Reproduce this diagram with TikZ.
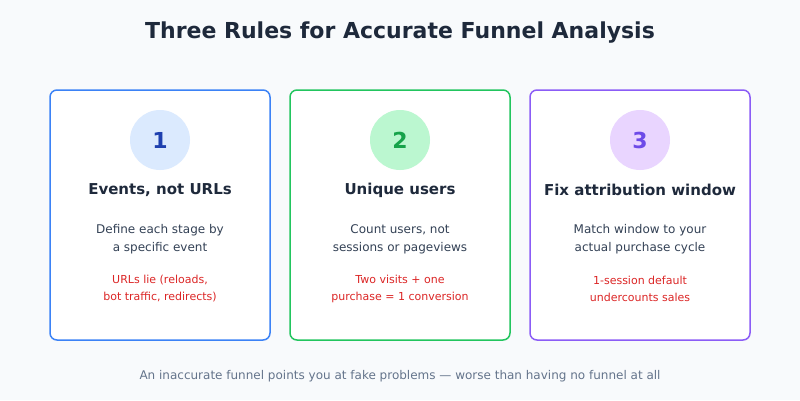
\documentclass[tikz,border=0pt]{standalone}
\usepackage{fontspec}
\setmainfont{DejaVu Sans}
\usetikzlibrary{positioning}
\definecolor{bgcol}{HTML}{F8FAFC}
\definecolor{ink}{HTML}{1E293B}
\definecolor{body}{HTML}{334155}
\definecolor{muted}{HTML}{64748B}
\definecolor{warn}{HTML}{DC2626}
\definecolor{blueA}{HTML}{3B82F6}\definecolor{blueB}{HTML}{DBEAFE}\definecolor{blueC}{HTML}{1E40AF}
\definecolor{greenA}{HTML}{22C55E}\definecolor{greenB}{HTML}{BBF7D0}\definecolor{greenC}{HTML}{16A34A}
\definecolor{purpA}{HTML}{8B5CF6}\definecolor{purpB}{HTML}{E9D5FF}\definecolor{purpC}{HTML}{6D4AE8}
\tikzset{
  card/.style={draw=#1,line width=1.5pt,fill=white,rounded corners=7pt},
  badge/.style={circle,fill=#1,minimum size=60pt,inner sep=0pt},
  headtxt/.style={font=\fontsize{15}{18}\selectfont\bfseries,text=ink},
  bodytxt/.style={font=\fontsize{12}{18}\selectfont,text=body,align=center},
  warntxt/.style={font=\fontsize{11}{17}\selectfont,text=warn,align=center}
}
\begin{document}
\begin{tikzpicture}[x=1pt,y=-1pt]
\fill[bgcol] (0,0) rectangle (800,400);
\useasboundingbox (0,0) rectangle (800,400);
\node[font=\fontsize{22}{26}\selectfont\bfseries,text=ink] (title) at (400,33) {Three Rules for Accurate Funnel Analysis};

\foreach \cx/\col/\num/\head/\bodyA/\warnA [count=\i] in {
  160/blue/1/{Events, not URLs}/{Define each stage by\\a specific event}/{URLs lie (reloads,\\bot traffic, redirects)},
  400/green/2/{Unique users}/{Count users, not\\sessions or pageviews}/{Two visits + one\\purchase = 1 conversion},
  640/purp/3/{Fix attribution window}/{Match window to your\\actual purchase cycle}/{1-session default\\undercounts sales}}
{
  \draw[card=\col A] (\cx-110,90) rectangle (\cx+110,340);
  \node[badge=\col B,font=\fontsize{22}{26}\selectfont\bfseries,text=\col C] (badge\i) at (\cx,140) {\num};
  \node[headtxt] (head\i) at (\cx,190) {\head};
  \node[bodytxt] (body\i) at (\cx,239) {\bodyA};
  \node[warntxt] (warn\i) at (\cx,289) {\warnA};
}

\node[font=\fontsize{12}{14}\selectfont,text=muted] (foot) at (400,376) {An inaccurate funnel points you at fake problems — worse than having no funnel at all};
\end{tikzpicture}
\end{document}
